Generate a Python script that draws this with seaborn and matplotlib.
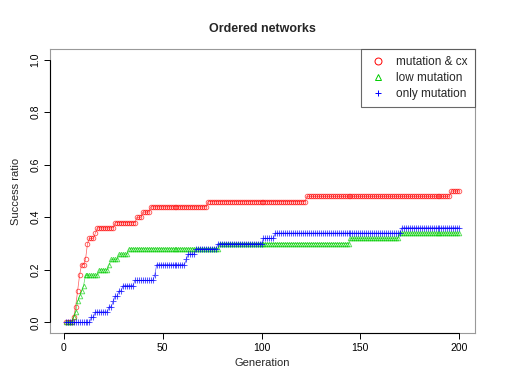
import numpy as np
import pandas as pd
import matplotlib
matplotlib.use("Agg")
import matplotlib.pyplot as plt
from matplotlib.lines import Line2D
import seaborn as sns

# -------------------------------
# Data: success ratio per generation, stored as step levels + run lengths
# -------------------------------
generations = np.arange(1, 201)

cx_levels = [0.0, 0.02, 0.06, 0.12, 0.18, 0.22, 0.24, 0.30, 0.32, 0.34, 0.36,
             0.38, 0.40, 0.42, 0.44, 0.46, 0.48, 0.50]
cx_runs   = [4, 1, 1, 1, 1, 2, 1, 1, 3, 1, 9, 11, 3, 4, 29, 50, 73, 5]

low_levels = [0.0, 0.02, 0.04, 0.08, 0.10, 0.12, 0.14, 0.18, 0.20, 0.22, 0.24,
              0.26, 0.28, 0.30, 0.32, 0.34]
low_runs   = [4, 1, 1, 1, 1, 1, 1, 7, 5, 1, 4, 5, 46, 66, 25, 31]

mut_levels = [0.0, 0.02, 0.04, 0.06, 0.08, 0.10, 0.12, 0.14, 0.16, 0.18, 0.22,
              0.24, 0.26, 0.28, 0.30, 0.32, 0.34, 0.36]
mut_runs   = [13, 2, 7, 2, 1, 2, 2, 6, 10, 1, 15, 1, 4, 11, 23, 6, 64, 30]

series_names = ["mutation & cx", "low mutation", "only mutation"]
series_colors = ["#FF0000", "#00CD00", "#0000FF"]
series_markers = ["o", "^", "+"]

df = pd.concat([
    pd.DataFrame({"Generation": generations,
                  "Success": np.repeat(lv, rn),
                  "Series": name})
    for lv, rn, name in [(cx_levels, cx_runs, series_names[0]),
                         (low_levels, low_runs, series_names[1]),
                         (mut_levels, mut_runs, series_names[2])]
])

# -------------------------------
# Plot
# -------------------------------
sns.set_style("white")
plt.rcParams["font.family"] = ["Liberation Sans", "DejaVu Sans"]

fig = plt.figure(figsize=(5.06, 3.91), dpi=100)
ax = fig.add_axes([50 / 506, 1 - 333 / 391, 425 / 506, 284 / 391])

for name, col, mk in zip(series_names, series_colors, series_markers):
    sub = df[df["Series"] == name]
    # points + thin line (R type "b" look), drawn through seaborn
    sns.lineplot(data=sub, x="Generation", y="Success", ax=ax,
                 color=col, linewidth=0.5, alpha=0.65, legend=False,
                 marker=mk, markersize=4.0 if mk == "+" else 3.3,
                 markerfacecolor="none", markeredgecolor=col,
                 markeredgewidth=0.75 if mk == "+" else 0.65)

ax.set_xlim(-6.96, 207.96)
ax.set_ylim(-0.04, 1.04)
ax.set_xticks([0, 50, 100, 150, 200])
ax.set_yticks([0.0, 0.2, 0.4, 0.6, 0.8, 1.0])
ax.set_yticklabels(["0.0", "0.2", "0.4", "0.6", "0.8", "1.0"])
ax.tick_params(direction="out", length=4, width=0.7, labelsize=7.5, pad=3,
               bottom=True, left=True, colors="black")
plt.setp(ax.get_yticklabels(), rotation=90, va="center")
for sp in ax.spines.values():
    sp.set_color("#999999")
    sp.set_linewidth(0.8)

# R style axis lines spanning first to last tick
ax.plot([0, 200], [-0.04, -0.04], color="black", lw=0.8, clip_on=False, zorder=5)
ax.plot([-6.96, -6.96], [0, 1], color="black", lw=0.8, clip_on=False, zorder=5)

ax.set_xlabel("Generation", fontsize=8, labelpad=4)
ax.set_ylabel("Success ratio", fontsize=8, labelpad=7)
ax.set_title("Ordered networks", fontsize=9, fontweight="bold", pad=12)

handles = [
    Line2D([], [], linestyle="none", marker=mk, color=col,
           markerfacecolor="none", markersize=5, markeredgewidth=0.7)
    for col, mk in zip(series_colors, series_markers)
]
leg = ax.legend(handles, series_names, loc="upper right", fontsize=8.5,
                frameon=True, fancybox=False, borderaxespad=0,
                handletextpad=0.8, labelspacing=0.35, handlelength=1.6,
                borderpad=0.6)
leg.get_frame().set_edgecolor("#444444")
leg.get_frame().set_linewidth(0.8)

fig.savefig("out.png", dpi=100)
